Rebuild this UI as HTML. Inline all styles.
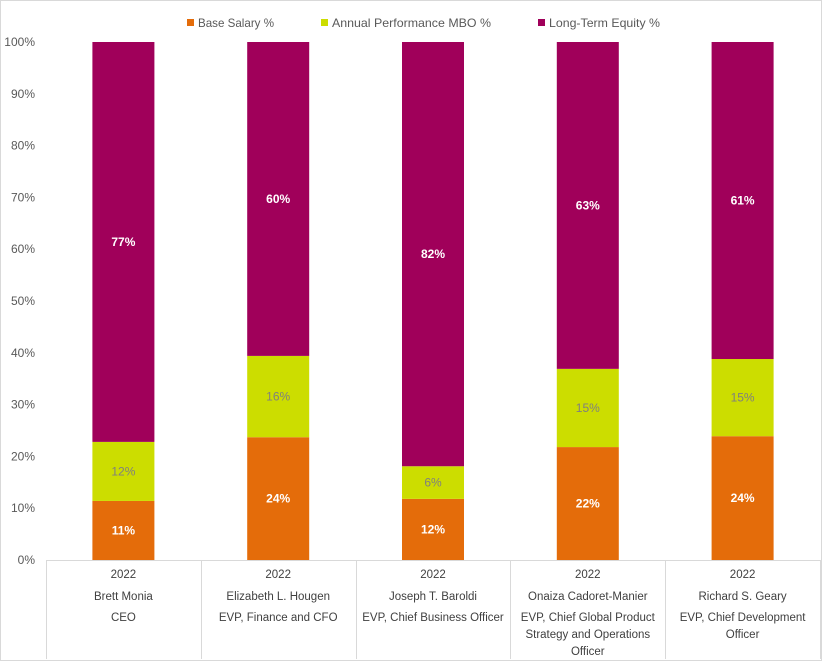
<!DOCTYPE html>
<html><head><meta charset="utf-8"><style>
body{margin:0;background:#fff;font-family:"Liberation Sans",sans-serif;}
svg text{font-family:"Liberation Sans",sans-serif;}
</style></head><body>
<svg id="chart" width="822" height="661" xmlns="http://www.w3.org/2000/svg">
<rect x="0.5" y="0.5" width="821" height="660" fill="#fff" stroke="#d9d9d9"/>
<g id="legend"></g>
<g id="yaxis"></g>
<g id="bars"></g>
<g id="xaxis"></g>
</svg>
<script>
const years = ["2022","2022","2022","2022","2022"];
const names = ["Brett Monia","Elizabeth L. Hougen","Joseph T. Baroldi","Onaiza Cadoret-Manier","Richard S. Geary"];
const titles = [["CEO"],["EVP, Finance and CFO"],["EVP, Chief Business Officer"],["EVP, Chief Global Product","Strategy and Operations","Officer"],["EVP, Chief Development","Officer"]];
const baseSalary = [11.4, 23.7, 11.8, 21.8, 23.9];
const mbo = [11.4, 15.7, 6.3, 15.1, 14.9];
const equity = [77.2, 60.6, 81.9, 63.1, 61.2];
const baseLabels = ["11%","24%","12%","22%","24%"];
const mboLabels = ["12%","16%","6%","15%","15%"];
const equityLabels = ["77%","60%","82%","63%","61%"];
const yTicks = [0,10,20,30,40,50,60,70,80,90,100];
const seriesNames = ["Base Salary %","Annual Performance MBO %","Long-Term Equity %"];
const colors = ["#E46C0A","#CCDD00","#A0005A"];

const NS="http://www.w3.org/2000/svg";
const L=46,R=820,T=42,B=560,bottom=659;
const n=names.length, cw=(R-L)/n, bw=62;
const y=v=>B-(v/100)*(B-T);
const xc=i=>L+cw*(i+0.5);
function mk(tag,attrs,parent,text){const e=document.createElementNS(NS,tag);for(const k in attrs)e.setAttribute(k,attrs[k]);if(text!==undefined)e.textContent=text;parent.appendChild(e);return e;}

const yg=document.getElementById('yaxis');
yTicks.forEach(t=>{const e=mk('text',{x:35,y:y(t)+4,'text-anchor':'end','font-size':12,fill:'#595959'},yg,t+'%');

});

const bg=document.getElementById('bars');
const series=[baseSalary,mbo,equity], labels=[baseLabels,mboLabels,equityLabels], lcol=["#fff","#7f7f7f","#fff"], keys=["base-salary","mbo","equity"];
for(let i=0;i<n;i++){let acc=0;
 series.forEach((s,k)=>{const v=s[i];const r=mk('rect',{x:xc(i)-bw/2,y:y(acc+v),width:bw,height:y(acc)-y(acc+v),fill:colors[k]},bg);
 
 
 const t=mk('text',{x:xc(i),y:(y(acc)+y(acc+v))/2+4,'text-anchor':'middle','font-size':12,'font-weight':k==1?'normal':'bold',fill:lcol[k]},bg,labels[k][i]);
 
 
 acc+=v;});}

const xg=document.getElementById('xaxis');
mk('line',{x1:L,y1:B+0.5,x2:R,y2:B+0.5,stroke:'#d9d9d9'},xg);
for(let i=0;i<=n;i++){const x=Math.round(L+cw*i)+0.5;mk('line',{x1:x,y1:B,x2:x,y2:bottom,stroke:'#d9d9d9'},xg);}
for(let i=0;i<n;i++){
 const rows=[[years[i],578],[names[i],600]];
 titles[i].forEach((s,j)=>rows.push([s,621+j*17]));
 rows.forEach(([s,yy])=>{const t=mk('text',{x:xc(i),y:yy,'text-anchor':'middle','font-size':11.5,fill:'#404040'},xg,s);
 
 });}

const lg=document.getElementById('legend');
const lx=[187,321,538];
const lw=[76,159,111];
seriesNames.forEach((s,k)=>{mk('rect',{x:lx[k],y:19,width:7,height:7,fill:colors[k]},lg);
 const t=mk('text',{x:lx[k]+11,y:27,'font-size':12,fill:'#595959',textLength:lw[k],lengthAdjust:'spacingAndGlyphs'},lg,s);
 
 });
</script>
</body></html>
